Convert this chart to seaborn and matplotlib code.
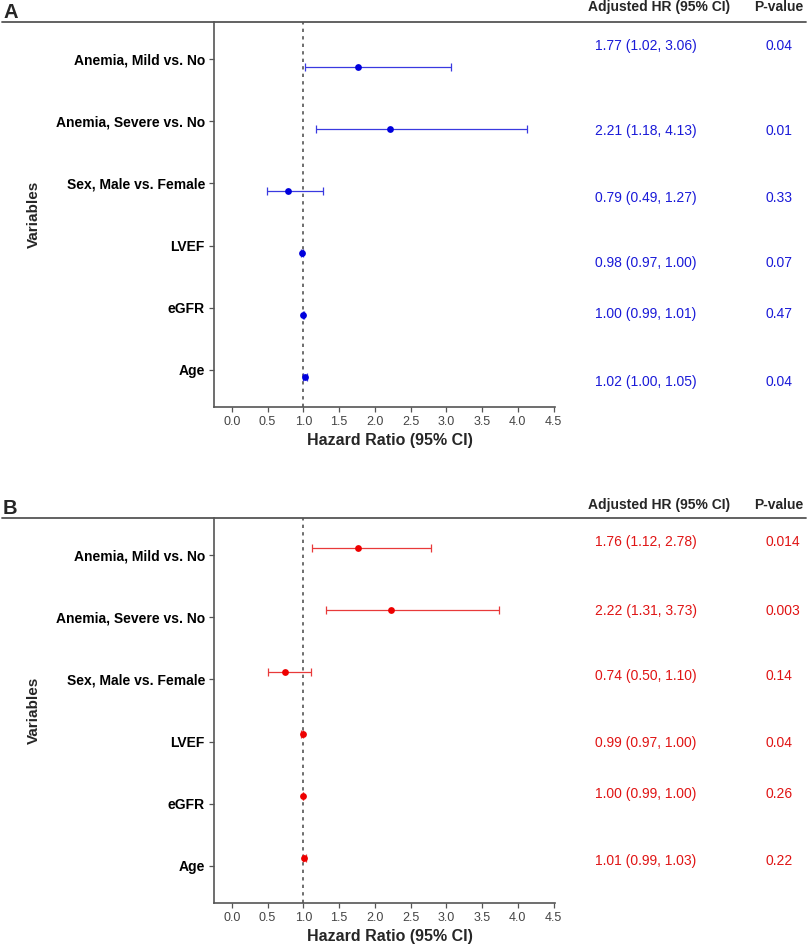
import numpy as np
import pandas as pd
import seaborn as sns
import matplotlib.pyplot as plt
from matplotlib import transforms
from matplotlib.lines import Line2D

# data
variables = ["Anemia, Mild vs. No", "Anemia, Severe vs. No", "Sex, Male vs. Female",
             "LVEF", "eGFR", "Age"]

hr_a = [1.77, 2.21, 0.79, 0.98, 1.00, 1.02]
lo_a = [1.02, 1.18, 0.49, 0.97, 0.99, 1.00]
hi_a = [3.06, 4.13, 1.27, 1.00, 1.01, 1.05]
p_a = ["0.04", "0.01", "0.33", "0.07", "0.47", "0.04"]

hr_b = [1.76, 2.22, 0.74, 0.99, 1.00, 1.01]
lo_b = [1.12, 1.31, 0.50, 0.97, 0.99, 0.99]
hi_b = [2.78, 3.73, 1.10, 1.00, 1.00, 1.03]
p_b = ["0.014", "0.003", "0.14", "0.04", "0.26", "0.22"]

x_ticks = [0.0, 0.5, 1.0, 1.5, 2.0, 2.5, 3.0, 3.5, 4.0, 4.5]
x_tick_labels = ["0.0", "0.5", "1.0", "1.5", "2.0", "2.5", "3.0", "3.5", "4.0", "4.5"]

df_a = pd.DataFrame({"variable": variables, "hr": hr_a, "lo": lo_a, "hi": hi_a, "p": p_a})
df_b = pd.DataFrame({"variable": variables, "hr": hr_b, "lo": lo_b, "hi": hi_b, "p": p_b})

sns.set_theme(style="ticks")
plt.rcParams["font.family"] = ["Liberation Sans", "DejaVu Sans"]

W, H = 810, 947
fig = plt.figure(figsize=(W / 100, H / 100), dpi=100)


def fx(px):
    return px / W


def fy(py):
    return 1 - py / H


GREY = "#555555"


def draw_panel(df, letter, top, line_col, pt_col, txt_col, dot_shift, txt_shift,
               head_base, p_left):
    bottom = top + 385
    ax = fig.add_axes([fx(214), fy(bottom), fx(555) - fx(214), (bottom - top) / H])
    rows = np.arange(len(df))
    ypos = rows + dot_shift

    ax.axvline(1.0, color=GREY, lw=1.2, ls=(0, (2, 2.5)), zorder=1)
    ax.errorbar(df["hr"], ypos, xerr=[df["hr"] - df["lo"], df["hi"] - df["hr"]],
                fmt="none", ecolor=line_col, elinewidth=0.9, capsize=3, capthick=0.9,
                zorder=2)
    sns.scatterplot(x=df["hr"].values, y=ypos, color=pt_col, s=24, linewidth=0,
                    ax=ax, zorder=3, legend=False)

    ax.set_xlim(-0.25, 4.52)
    ax.set_ylim(5.6, -0.6)
    ax.set_yticks(rows)
    ax.set_yticklabels(df["variable"], fontsize=10, fontweight="bold", color="black")
    ax.set_xticks(x_ticks)
    ax.set_xticklabels(x_tick_labels, fontsize=9, color="#444444")
    ax.tick_params(axis="both", length=3.5, width=0.9, color=GREY, pad=3)
    for side in ["top", "right"]:
        ax.spines[side].set_visible(False)
    for side in ["left", "bottom"]:
        ax.spines[side].set_color(GREY)
        ax.spines[side].set_linewidth(1.2)

    ax.set_xlabel("Hazard Ratio (95% CI)", fontsize=11.5, fontweight="bold")
    ax.xaxis.set_label_coords(0.516, -0.068)
    ax.xaxis.label.set_va("top")
    ax.set_ylabel("")
    fig.text(fx(34), fy((top + bottom) / 2), "Variables", rotation=90, fontsize=11,
             fontweight="bold", ha="center", va="center")

    # table columns on the right
    trans = transforms.blended_transform_factory(fig.transFigure, ax.transData)
    for i, r in df.iterrows():
        y = i + txt_shift[i]
        ax.text(fx(595), y, f"{r['hr']:.2f} ({r['lo']:.2f}, {r['hi']:.2f})",
                transform=trans, fontsize=10, color=txt_col, ha="left", va="center",
                clip_on=False)
        ax.text(fx(p_left), y, r["p"], transform=trans, fontsize=10, color=txt_col,
                ha="left", va="center", clip_on=False)

    fig.text(fx(588), fy(head_base), "Adjusted HR (95% CI)", fontsize=10,
             fontweight="bold", ha="left", va="baseline")
    fig.text(fx(754), fy(head_base), "P-value", fontsize=10, fontweight="bold",
             ha="left", va="baseline")
    fig.text(fx(3), fy(top - 4), letter, fontsize=14.5, fontweight="bold", ha="left",
             va="baseline")
    fig.add_artist(Line2D([fx(2), fx(806)], [fy(top), fy(top)], transform=fig.transFigure,
                          color=GREY, lw=1.3))
    return ax


draw_panel(df_a, "A", 22, "#3a3ae0", "#0000dd", "#1a1ad8", 0.12,
           [-0.21, 0.15, 0.23, 0.28, 0.11, 0.19], 11, 765)
draw_panel(df_b, "B", 518, "#e83a3a", "#ee0000", "#e01414", -0.12,
           [-0.21, -0.11, -0.05, 0.03, -0.16, -0.08], 509, 766)

fig.savefig("out.png", dpi=100)
